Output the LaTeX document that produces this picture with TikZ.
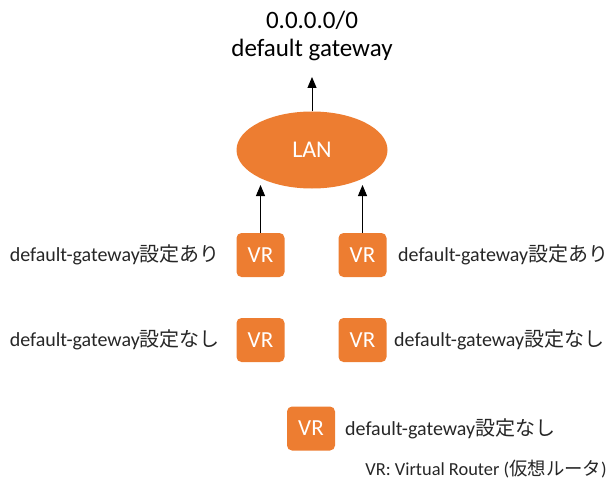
\documentclass[tikz,border=0pt]{standalone}
\usepackage{fontspec}
\setmainfont{Carlito}
\newfontfamily\jpfont{Noto Sans CJK JP}
\newcommand{\jp}[1]{{\jpfont #1}}
\usetikzlibrary{arrows.meta,shapes.geometric}
\definecolor{vrorange}{HTML}{ED7D31}
\definecolor{txtgray}{HTML}{262626}
\tikzset{
  vrbox/.style={fill=vrorange, draw=none, rounded corners=5pt, minimum width=48pt, minimum height=44pt, inner sep=0pt, text=white, font=\fontsize{23}{25}\selectfont},
  lbl/.style={text=txtgray, inner sep=0pt, font=\fontsize{20}{22}\selectfont},
  arr/.style={-{Triangle[length=11pt,width=9pt]}, line width=1pt, black},
}
\begin{document}
\begin{tikzpicture}[x=1pt,y=-1pt]
\useasboundingbox (0,0) rectangle (609,481);
\node[inner sep=0pt, font=\fontsize{25}{27}\selectfont] (ip) at (312,20) {0.0.0.0/0};
\node[inner sep=0pt, font=\fontsize{25}{27}\selectfont] (dg) at (312,50) {default gateway};
\node[ellipse, fill=vrorange, minimum width=151pt, minimum height=77pt, inner sep=0pt, text=white, font=\fontsize{24}{26}\selectfont] (lan) at (312,150) {LAN};
\coordinate (top) at (312,77);
\draw[arr] (lan.north) -- (top);

\node[vrbox] (vr1) at (260.5,255) {VR};
\node[vrbox] (vr2) at (362.5,255) {VR};
\node[vrbox] (vr3) at (260.5,340) {VR};
\node[vrbox] (vr4) at (362.5,340) {VR};
\node[vrbox] (vr5) at (311,428.5) {VR};

\coordinate (t1) at (260.5,185);
\coordinate (t2) at (362.5,185);
\draw[arr] (vr1.north) -- (t1);
\draw[arr] (vr2.north) -- (t2);

\node[lbl, anchor=east] (l1) at (220,255) {default-gateway\jp{設定あり}};
\node[lbl, anchor=west] (l2) at (398,255) {default-gateway\jp{設定あり}};
\node[lbl, anchor=east] (l3) at (220,340) {default-gateway\jp{設定なし}};
\node[lbl, anchor=west] (l4) at (394,340) {default-gateway\jp{設定なし}};
\node[lbl, anchor=west] (l5) at (345,428.5) {default-gateway\jp{設定なし}};
\node[lbl, anchor=east, font=\fontsize{18.4}{20}\selectfont] (leg) at (607,469) {VR: Virtual Router (\jp{仮想ルータ})};
\end{tikzpicture}
\end{document}
